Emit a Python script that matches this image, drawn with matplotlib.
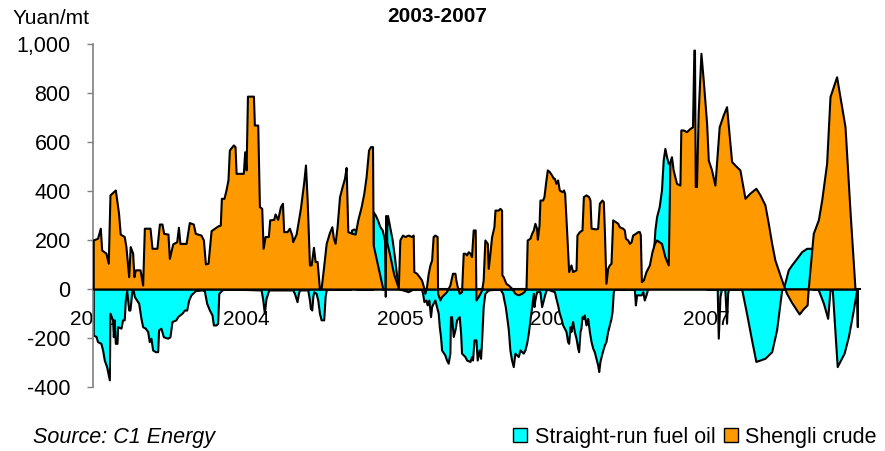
import matplotlib
matplotlib.use('Agg')
import matplotlib.pyplot as plt
from matplotlib.patches import Patch
from matplotlib.ticker import FuncFormatter

plt.rcParams['font.family'] = ['Liberation Sans', 'DejaVu Sans']

# Shengli crude (decimal year, yuan/mt)
shengli_t = [
    2003.002, 2003.030, 2003.048, 2003.057, 2003.085, 2003.100, 2003.111, 2003.146, 2003.167, 2003.178,
    2003.204, 2003.215, 2003.233, 2003.243, 2003.259, 2003.267, 2003.276, 2003.307, 2003.324, 2003.335,
    2003.372, 2003.385, 2003.417, 2003.433, 2003.450, 2003.461, 2003.489, 2003.498, 2003.520, 2003.546,
    2003.557, 2003.567, 2003.607, 2003.628, 2003.654, 2003.667, 2003.704, 2003.720, 2003.733, 2003.750,
    2003.770, 2003.813, 2003.830, 2003.837, 2003.854, 2003.867, 2003.880, 2003.889, 2003.915, 2003.926,
    2003.933, 2003.980, 2003.989, 2003.998,
    2004.007, 2004.046, 2004.052, 2004.074, 2004.085, 2004.100, 2004.109, 2004.122, 2004.143, 2004.152,
    2004.178, 2004.187, 2004.204, 2004.222, 2004.235, 2004.243, 2004.265, 2004.280, 2004.296, 2004.302,
    2004.324, 2004.352, 2004.374, 2004.385, 2004.396, 2004.411, 2004.422, 2004.437, 2004.448, 2004.461,
    2004.476, 2004.487, 2004.502, 2004.520, 2004.541, 2004.557, 2004.567, 2004.578, 2004.591, 2004.607,
    2004.624, 2004.639, 2004.650, 2004.661, 2004.687, 2004.709, 2004.726, 2004.748, 2004.765, 2004.780,
    2004.796, 2004.809, 2004.822, 2004.826, 2004.889, 2004.905, 2004.908, 2004.915, 2004.930, 2004.960,
    2004.990,
    2005.000, 2005.017, 2005.033, 2005.054, 2005.076, 2005.087, 2005.091, 2005.109, 2005.126, 2005.141,
    2005.157, 2005.163, 2005.174, 2005.185, 2005.196, 2005.207, 2005.217, 2005.228, 2005.243, 2005.246,
    2005.261, 2005.272, 2005.293, 2005.304, 2005.326, 2005.343, 2005.359, 2005.365, 2005.374, 2005.387,
    2005.402, 2005.413, 2005.424, 2005.435, 2005.446, 2005.457, 2005.467, 2005.478, 2005.491, 2005.496,
    2005.511, 2005.522, 2005.533, 2005.543, 2005.554, 2005.570, 2005.576, 2005.587, 2005.598, 2005.613,
    2005.620, 2005.641, 2005.652, 2005.663, 2005.665, 2005.674, 2005.691, 2005.707, 2005.728, 2005.750,
    2005.772, 2005.793, 2005.809, 2005.822, 2005.830, 2005.848, 2005.859, 2005.870, 2005.880, 2005.891,
    2005.896, 2005.907, 2005.913, 2005.930, 2005.939, 2005.952, 2005.961, 2005.974, 2005.989,
    2006.000, 2006.007, 2006.017, 2006.028, 2006.039, 2006.057, 2006.067, 2006.074, 2006.087, 2006.100,
    2006.115, 2006.126, 2006.148, 2006.154, 2006.170, 2006.187, 2006.196, 2006.213, 2006.230, 2006.239,
    2006.246, 2006.278, 2006.289, 2006.300, 2006.317, 2006.326, 2006.333, 2006.343, 2006.354, 2006.365,
    2006.376, 2006.387, 2006.404, 2006.420, 2006.430, 2006.452, 2006.463, 2006.470, 2006.485, 2006.496,
    2006.507, 2006.517, 2006.535, 2006.550, 2006.561, 2006.567, 2006.574, 2006.587, 2006.604, 2006.626,
    2006.643, 2006.659, 2006.673, 2006.705, 2006.727, 2006.749, 2006.760, 2006.770, 2006.781, 2006.792,
    2006.803, 2006.825, 2006.831, 2006.847, 2006.868, 2006.890, 2006.907, 2006.916, 2006.920, 2006.925,
    2006.933, 2006.944, 2006.962, 2006.977, 2006.999,
    2007.010, 2007.031, 2007.053, 2007.081, 2007.107, 2007.129, 2007.162, 2007.194, 2007.216, 2007.249,
    2007.281, 2007.320, 2007.347, 2007.379, 2007.401, 2007.423, 2007.444, 2007.477, 2007.503, 2007.520,
    2007.553, 2007.602, 2007.630, 2007.654, 2007.661, 2007.694, 2007.727, 2007.749, 2007.781, 2007.803,
    2007.846, 2007.901, 2007.933, 2007.966, 2007.977,
]
shengli_v = [
    200, 207, 248, 159, 146, 105, 384, 404, 309, 224,
    214, 173, 50, 173, 146, 50, 78, 78, 16, 248,
    248, 166, 166, 265, 265, 227, 224, 125, 184, 193,
    252, 186, 186, 271, 265, 227, 220, 200, 102, 105,
    238, 257, 261, 370, 370, 404, 445, 567, 588, 581,
    472, 472, 560, 486,
    787, 787, 669, 669, 336, 329, 166, 214, 214, 282,
    284, 306, 284, 336, 350, 234, 234, 248, 220, 193,
    224, 329, 438, 506, 363, 98, 98, 170, 112, 112,
    0, 3, 84, 186, 230, 254, 207, 186, 254, 377,
    418, 451, 496, 234, 227, 224, 282, 336, 390, 458,
    567, 581, 581, 180, 0, 0, 300, 190, 150, 60,
    5,
    200, 220, 214, 220, 214, 220, 71, 64, 50, 37,
    3, -18, 10, 64, 98, 118, 214, 220, 214, -18,
    -45, -31, -18, -11, 16, 64, 64, 37, 10, -18,
    -11, 146, 146, 139, 152, 146, 132, 241, 241, -45,
    -31, -18, -4, 37, 200, 186, 84, 146, 214, 254,
    322, 322, 329, 322, 57, 50, 23, 16, 3, -18,
    -24, -18, -11, 3, 200, 207, 227, 241, 268, 248,
    203, 261, 363, 363, 377, 445, 486, 479, 465,
    452, 452, 431, 445, 404, 397, 404, 390, 234, 71,
    98, 71, 78, 220, 234, 241, 377, 384, 377, 363,
    248, 245, 248, 350, 363, 356, 234, 23, 84, 98,
    105, 282, 275, 268, 254, 248, 241, 207, 200, 186,
    193, 220, 227, 234, 234, 220, 30, 37, 71, 98,
    152, 186, 200, 186, 132, 98, 520, 540, 486, 458,
    431, 424, 649, 649, 642, 655, 662, 975, 975, 418,
    418, 717, 962, 853, 676,
    526, 486, 424, 662, 710, 744, 520, 499, 486, 370,
    391, 411, 384, 343, 268, 186, 118, 57, 10, -18,
    -55, -102, -80, -65, 0, 227, 282, 363, 513, 785,
    866, 662, 322, 0, 0,
]

# Straight-run fuel oil (decimal year, yuan/mt)
straight_t = [
    2003.002, 2003.020, 2003.030, 2003.052, 2003.063, 2003.074, 2003.089, 2003.107, 2003.111, 2003.128,
    2003.133, 2003.139, 2003.146, 2003.157, 2003.161, 2003.183, 2003.193, 2003.204, 2003.211, 2003.220,
    2003.233, 2003.241, 2003.248, 2003.254, 2003.263, 2003.270, 2003.298, 2003.313, 2003.324, 2003.341,
    2003.357, 2003.367, 2003.378, 2003.389, 2003.407, 2003.422, 2003.428, 2003.443, 2003.459, 2003.487,
    2003.502, 2003.515, 2003.541, 2003.552, 2003.580, 2003.596, 2003.611, 2003.624, 2003.639, 2003.667,
    2003.711, 2003.726, 2003.741, 2003.759, 2003.776, 2003.785, 2003.802, 2003.813, 2003.820, 2003.841,
    2003.860,
    2004.096, 2004.107, 2004.117, 2004.128, 2004.146, 2004.302, 2004.313, 2004.330, 2004.339, 2004.346,
    2004.400, 2004.411, 2004.417, 2004.426, 2004.433, 2004.439, 2004.454, 2004.465, 2004.476, 2004.487,
    2004.504, 2004.513, 2004.520, 2004.550, 2004.680, 2004.685, 2004.700, 2004.710, 2004.715, 2004.824,
    2004.826, 2004.840, 2004.855, 2004.870, 2004.885, 2004.900, 2004.905, 2004.915, 2004.920, 2004.935,
    2004.950, 2004.965, 2004.980, 2004.998,
    2005.054, 2005.076, 2005.087, 2005.141, 2005.148, 2005.157, 2005.170, 2005.178, 2005.189, 2005.200,
    2005.207, 2005.217, 2005.228, 2005.239, 2005.250, 2005.257, 2005.265, 2005.272, 2005.293, 2005.304,
    2005.315, 2005.326, 2005.330, 2005.337, 2005.348, 2005.359, 2005.370, 2005.387, 2005.396, 2005.402,
    2005.424, 2005.435, 2005.457, 2005.467, 2005.474, 2005.483, 2005.496, 2005.504, 2005.517, 2005.526,
    2005.533, 2005.543, 2005.554, 2005.576, 2005.652, 2005.670, 2005.678, 2005.687, 2005.696, 2005.707,
    2005.717, 2005.728, 2005.739, 2005.750, 2005.772, 2005.783, 2005.804, 2005.815, 2005.826, 2005.837,
    2005.848, 2005.859, 2005.870, 2005.874, 2005.880, 2005.891, 2005.913, 2005.924, 2005.935, 2005.946,
    2005.957,
    2006.007, 2006.017, 2006.028, 2006.039, 2006.050, 2006.061, 2006.072, 2006.083, 2006.093, 2006.100,
    2006.109, 2006.115, 2006.126, 2006.137, 2006.148, 2006.159, 2006.165, 2006.174, 2006.180, 2006.187,
    2006.196, 2006.202, 2006.213, 2006.224, 2006.235, 2006.246, 2006.257, 2006.267, 2006.278, 2006.289,
    2006.296, 2006.304, 2006.317, 2006.333, 2006.343, 2006.354, 2006.365, 2006.376, 2006.383, 2006.391,
    2006.398, 2006.528, 2006.535, 2006.543, 2006.572, 2006.583, 2006.593, 2006.604, 2006.615, 2006.620,
    2006.650, 2006.662, 2006.673, 2006.690, 2006.705, 2006.716, 2006.727, 2006.738, 2006.749, 2006.757,
    2006.762, 2006.800, 2007.000,
    2007.068, 2007.075, 2007.086, 2007.096, 2007.118, 2007.129, 2007.136, 2007.142, 2007.227, 2007.259,
    2007.292, 2007.320, 2007.379, 2007.423, 2007.455, 2007.488, 2007.503, 2007.531, 2007.553, 2007.586,
    2007.618, 2007.651, 2007.683, 2007.694, 2007.716, 2007.727, 2007.760, 2007.788, 2007.803, 2007.818,
    2007.850, 2007.895, 2007.923, 2007.955, 2007.977, 2007.981,
]
straight_v = [
    -188, -194, -215, -222, -249, -290, -317, -371, -99, -126,
    -195, -126, -222, -222, -154, -160, -126, -126, -45, -7,
    -86, -86, -45, -7, -7, -31, -58, -120, -154, -160,
    -174, -215, -201, -249, -256, -256, -167, -160, -195, -201,
    -195, -133, -126, -113, -99, -86, -86, -45, -24, -7,
    -4, -7, -58, -86, -106, -147, -147, -140, -18, -4,
    0,
    -4, -45, -99, -38, -4, -4, -18, -52, -18, -4,
    -4, -45, -79, -86, -31, -11, -18, -45, -99, -126,
    -126, -31, -4, 0, 0, 240, 245, 240, 0, 0,
    315, 302, 281, 254, 241, 200, -30, 250, 300, 250,
    200, 130, 50, 0,
    -11, -4, 0, 0, -18, -52, -45, -65, -45, -113,
    -72, -58, -45, -72, -99, -154, -194, -249, -269, -290,
    -303, -262, -113, -113, -194, -167, -126, -113, -181, -262,
    -276, -290, -296, -276, -290, -208, -208, -290, -249, -283,
    -208, -72, -18, -4, 0, -18, -45, -72, -113, -167,
    -249, -290, -317, -262, -276, -249, -262, -249, -222, -181,
    -126, -72, -18, -72, -45, -11, -11, -72, -45, -18,
    0,
    -11, -38, -65, -99, -120, -147, -160, -174, -215, -222,
    -154, -174, -133, -174, -201, -242, -256, -174, -160, -113,
    -120, -106, -147, -120, -174, -215, -242, -256, -283, -310,
    -337, -296, -262, -228, -215, -174, -147, -120, -92, -11,
    0, 0, -65, -24, -24, -11, -45, -24, 0, 0,
    120, 241, 295, 336, 404, 526, 574, 540, 513, 515,
    100, 50, 0,
    0, -201, -31, 0, -4, -140, -18, 0, 0, -99,
    -208, -296, -283, -256, -167, -4, 10, 78, 98, 125,
    152, 166, 166, 0, 0, -4, -58, -120, -4, -4,
    -317, -262, -194, -86, -4, -154,
]

years = [2003, 2004, 2005, 2006, 2007]
yticks = [-400, -200, 0, 200, 400, 600, 800, 1000]

fig = plt.figure(figsize=(8.85, 4.51), dpi=100)
ax = fig.add_axes([0.105, 0.142, 0.867, 0.7605])

ax.fill_between(straight_t, 0, straight_v, facecolor='#00FFFF', edgecolor='black',
                linewidth=1.5, zorder=2)
ax.fill_between(shengli_t, 0, shengli_v, facecolor='#FF9900', edgecolor='black',
                linewidth=1.5, zorder=3)

ax.set_xlim(2003, 2008)
ax.set_ylim(-400, 1000)

ax.spines['top'].set_visible(False)
ax.spines['right'].set_visible(False)
ax.spines['bottom'].set_position(('data', 0))
ax.spines['bottom'].set_linewidth(1.5)
ax.spines['bottom'].set_zorder(1)
ax.spines['left'].set_color('#808080')
ax.spines['left'].set_linewidth(1.2)

ax.set_xticks(years)
ax.set_xticklabels([str(y) for y in years])
ax.tick_params(axis='x', direction='in', length=4, width=1, pad=15, labelsize=15)
ax.set_yticks(yticks)
ax.yaxis.set_major_formatter(FuncFormatter(lambda v, p: f'{int(v):,}'))
ax.tick_params(axis='y', direction='out', length=4, width=1, color='#808080',
               pad=12, labelsize=15.5)

fig.text(437 / 885, 1 - 17 / 451, '2003-2007', ha='center', va='center',
         fontsize=15, fontweight='bold')
fig.text(13 / 885, 1 - 18 / 451, 'Yuan/mt', ha='left', va='center', fontsize=15)
fig.text(33 / 885, 1 - 437 / 451, 'Source: C1 Energy', ha='left', va='center',
         fontsize=15.5, style='italic')

handles = [Patch(facecolor='#00FFFF', edgecolor='black', linewidth=1),
           Patch(facecolor='#FF9900', edgecolor='black', linewidth=1)]
fig.legend(handles, ['Straight-run fuel oil', 'Shengli crude'], loc='center right',
           bbox_to_anchor=(1.003, 1 - 437 / 451), ncol=2, frameon=False, fontsize=15.5,
           handlelength=0.65, handleheight=0.65, handletextpad=0.35, columnspacing=0.4,
           borderaxespad=0.1)

fig.savefig('out.png', dpi=100)
